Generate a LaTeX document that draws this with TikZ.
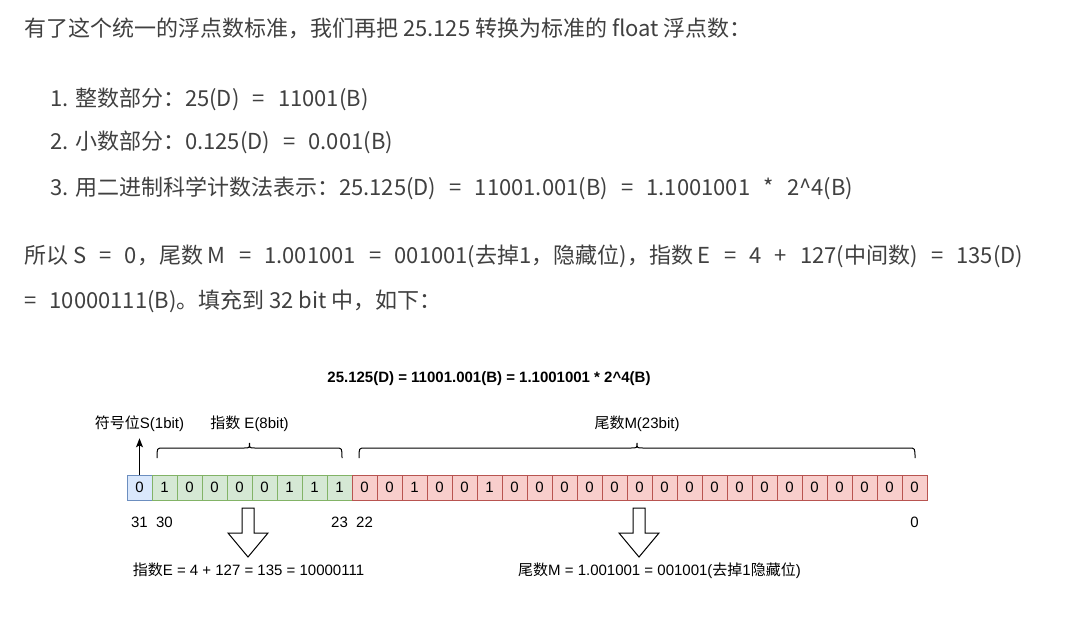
\documentclass[tikz,border=0pt]{standalone}
\usepackage{fontspec}
\setmainfont{Liberation Sans}
\newfontfamily\cjk{Noto Sans CJK SC}
\usetikzlibrary{arrows.meta,positioning}
\definecolor{txtgray}{HTML}{404040}
\definecolor{sfill}{HTML}{DAE8FC}
\definecolor{sline}{HTML}{6C8EBF}
\definecolor{efill}{HTML}{D5E8D4}
\definecolor{eline}{HTML}{82B366}
\definecolor{mfill}{HTML}{F8CECC}
\definecolor{mline}{HTML}{B85450}
\newcommand{\op}[1]{\hspace{0.6em}#1\hspace{0.6em}}

\begin{document}
\begin{tikzpicture}[x=1pt, y=-1pt,
	para/.style = {anchor=base west, inner sep=0, text=txtgray, font=\cjk\fontsize{22}{26}\selectfont},
	bit/.style = {draw, minimum width=25pt, minimum height=25pt, inner sep=0, outer sep=0, font=\fontsize{15}{17}\selectfont},
	sbit/.style = {bit, fill=sfill, draw=sline},
	ebit/.style = {bit, fill=efill, draw=eline},
	mbit/.style = {bit, fill=mfill, draw=mline},
	lbl/.style = {anchor=base, inner sep=0, font=\fontsize{15}{17}\selectfont},
	idx/.style = {inner sep=0, font=\fontsize{15}{17}\selectfont},
	brace/.style = {draw, line width=1pt},
	fat/.style = {draw, line width=1pt, fill=white, line join=miter},
	]
		\useasboundingbox[fill=white] (0,0) rectangle (1084,625);
		
		% text above the figure
		\node[para] (t1) at (24,36) {有了这个统一的浮点数标准，我们再把 25.125 转换为标准的 float 浮点数：};
		\node[para] (l1) at (50,106) {1. 整数部分：25(D)\op{=}11001(B)};
		\node[para] (l2) at (50,149) {2. 小数部分：0.125(D)\op{=}0.001(B)};
		\node[para] (l3) at (50,195) {3. 用二进制科学计数法表示：25.125(D)\op{=}11001.001(B)\op{=}1.1001001\op{*}2\textasciicircum{}4(B)};
		\node[para] (p1) at (24,263) {所以 S\op{=}0，尾数 M\op{=}1.001001\op{=}001001(去掉1，隐藏位)，指数 E\op{=}4\op{+}127(中间数)\op{=}135(D)};
		\node[para] (p2) at (24,308) {=\hspace{0.6em}10000111(B)。填充到 32 bit 中，如下：};
		
		\node[lbl, font=\bfseries\fontsize{15}{17}\selectfont] (title) at (489,382) {25.125(D) = 11001.001(B) = 1.1001001 * 2\textasciicircum{}4(B)};
		
		% the 32 bits
		\node[sbit] (b31) at (139.5,487.5) {0};
		\node[ebit, right=0pt of b31] (b30) {1};
		\node[ebit, right=0pt of b30] (b29) {0};
		\node[ebit, right=0pt of b29] (b28) {0};
		\node[ebit, right=0pt of b28] (b27) {0};
		\node[ebit, right=0pt of b27] (b26) {0};
		\node[ebit, right=0pt of b26] (b25) {1};
		\node[ebit, right=0pt of b25] (b24) {1};
		\node[ebit, right=0pt of b24] (b23) {1};
		\node[mbit, right=0pt of b23] (b22) {0};
		\node[mbit, right=0pt of b22] (b21) {0};
		\node[mbit, right=0pt of b21] (b20) {1};
		\node[mbit, right=0pt of b20] (b19) {0};
		\node[mbit, right=0pt of b19] (b18) {0};
		\node[mbit, right=0pt of b18] (b17) {1};
		\node[mbit, right=0pt of b17] (b16) {0};
		\node[mbit, right=0pt of b16] (b15) {0};
		\node[mbit, right=0pt of b15] (b14) {0};
		\node[mbit, right=0pt of b14] (b13) {0};
		\node[mbit, right=0pt of b13] (b12) {0};
		\node[mbit, right=0pt of b12] (b11) {0};
		\node[mbit, right=0pt of b11] (b10) {0};
		\node[mbit, right=0pt of b10] (b9) {0};
		\node[mbit, right=0pt of b9] (b8) {0};
		\node[mbit, right=0pt of b8] (b7) {0};
		\node[mbit, right=0pt of b7] (b6) {0};
		\node[mbit, right=0pt of b6] (b5) {0};
		\node[mbit, right=0pt of b5] (b4) {0};
		\node[mbit, right=0pt of b4] (b3) {0};
		\node[mbit, right=0pt of b3] (b2) {0};
		\node[mbit, right=0pt of b2] (b1) {0};
		\node[mbit, right=0pt of b1] (b0) {0};
		
		\node[idx, below=17pt of b31] (i31) {31};
		\node[idx, below=17pt of b30] (i30) {30};
		\node[idx, below=17pt of b23] (i23) {23};
		\node[idx, below=17pt of b22] (i22) {22};
		\node[idx, below=17pt of b0] (i0) {0};
		
		% field names
		\node[lbl] (sgn) at (139.5,428) {{\cjk 符号位}S(1bit)};
		\node[lbl] (expo) at (249.5,428) {{\cjk 指数} E(8bit)};
		\node[lbl] (mant) at (637,428) {{\cjk 尾数}M(23bit)};
		
		\draw[line width=1pt, -{Stealth[length=9pt, width=7pt, inset=2pt]}, shorten >=7pt] (b31) -- (sgn);
		
		\draw[brace] (157,458) .. controls (157,448) .. (163,448) -- (244,448) .. controls (249.5,448) .. (249.5,443)
			.. controls (249.5,448) .. (255,448) -- (336,448) .. controls (342,448) .. (342,458);
		\draw[brace] (359,458) .. controls (359,448) .. (365,448) -- (631,448) .. controls (637,448) .. (637,443)
			.. controls (637,448) .. (643,448) -- (909,448) .. controls (915,448) .. (915,458);
		
		% hollow arrows and results
		\draw[fat] (242,508) -- (254,508) -- (254,533) -- (268,533) -- (248,557) -- (228,533) -- (242,533) -- cycle;
		\draw[fat] (633,508) -- (645,508) -- (645,533) -- (659,533) -- (639,557) -- (619,533) -- (633,533) -- cycle;
		
		\node[lbl] (expv) at (248.5,575) {{\cjk 指数}E = 4 + 127 = 135 = 10000111};
		\node[lbl] (mantv) at (659.5,575) {{\cjk 尾数}M = 1.001001 = 001001({\cjk 去掉}1{\cjk 隐藏位})};
	\end{tikzpicture}
\end{document}
